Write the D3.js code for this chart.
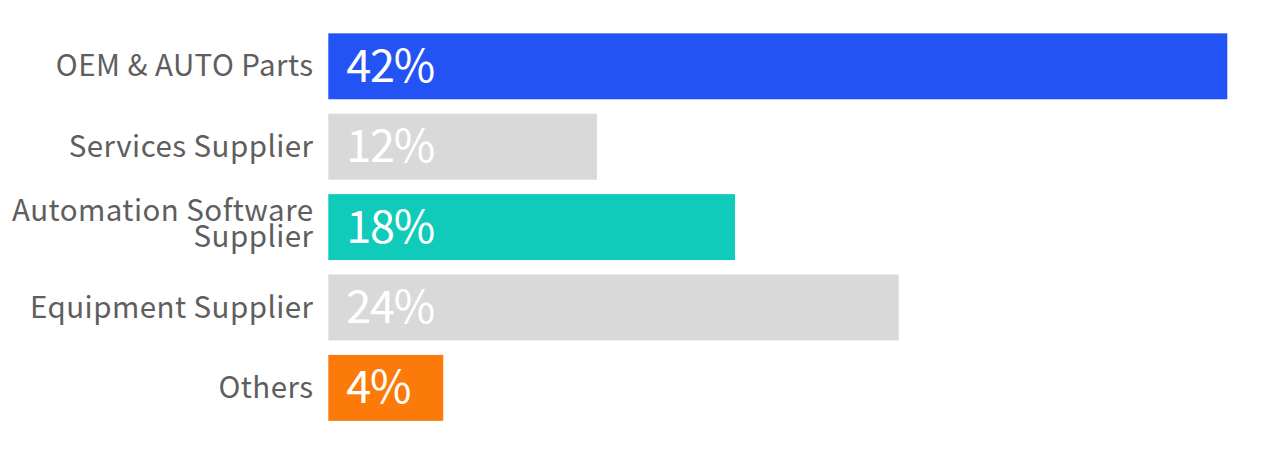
<!DOCTYPE html>
<html>
<head>
<meta charset="utf-8">
<script src="https://cdn.jsdelivr.net/npm/d3@7"></script>
<style>
  html, body { margin: 0; padding: 0; background: #ffffff; }
  svg { display: block; }
</style>
</head>
<body>
<svg id="chart" width="1267" height="460"></svg>
<script>
// Categories (label lines)
const categories = [
  ["OEM & AUTO Parts"],
  ["Services Supplier"],
  ["Automation Software", "Supplier"],
  ["Equipment Supplier"],
  ["Others"]
];
// Bar lengths as drawn in the picture (share, %)
const barValues = [42, 12.55, 19.0, 26.65, 5.37];
// Printed value labels
const valueLabels = ["42%", "12%", "18%", "24%", "4%"];
// Bar colours
const barColors = ["#2453f5", "#d9d9d9", "#10cbb9", "#d9d9d9", "#fb7a0a"];

const FONT = "'Noto Sans CJK SC', 'Noto Sans', sans-serif";
const svg = d3.select("#chart");
const ids = categories.map((c, i) => i);

const y = d3.scaleBand()
  .domain(ids)
  .range([26.1, 428.1])
  .paddingInner(0.18)
  .paddingOuter(0.09);

const x = d3.scaleLinear()
  .domain([0, 42])
  .range([328.3, 1227.3]);

// Bars
svg.append("g").selectAll("rect")
  .data(ids)
  .join("rect")
  .attr("x", x(0))
  .attr("y", i => y(i))
  .attr("width", i => x(barValues[i]) - x(0))
  .attr("height", y.bandwidth())
  .attr("fill", i => barColors[i]);

// Value labels
svg.append("g").selectAll("text")
  .data(ids)
  .join("text")
  .attr("x", x(0) + 18)
  .attr("y", i => y(i) + y.bandwidth() / 2 + 15.5)
  .attr("fill", "#ffffff")
  .attr("font-family", FONT)
  .attr("font-size", 45)
  .attr("letter-spacing", -1.2)
  .text(i => valueLabels[i]);

// Category labels
const labelG = svg.append("g");
const LX = 313.5;
ids.forEach(i => {
  const lines = categories[i];
  const cy = y(i) + y.bandwidth() / 2;
  const t = labelG.append("text")
    .attr("text-anchor", "end")
    .attr("fill", "#5e5e5e")
    .attr("font-family", FONT)
    .attr("font-size", 29.5)
    .attr("letter-spacing", 0.45);
  if (lines.length === 1) {
    t.append("tspan").attr("x", LX).attr("y", cy + 10).text(lines[0]);
  } else {
    t.append("tspan").attr("x", LX).attr("y", cy - 6).text(lines[0]);
    t.append("tspan").attr("x", LX).attr("y", cy + 20).text(lines[1]);
  }
});
</script>
</body>
</html>
